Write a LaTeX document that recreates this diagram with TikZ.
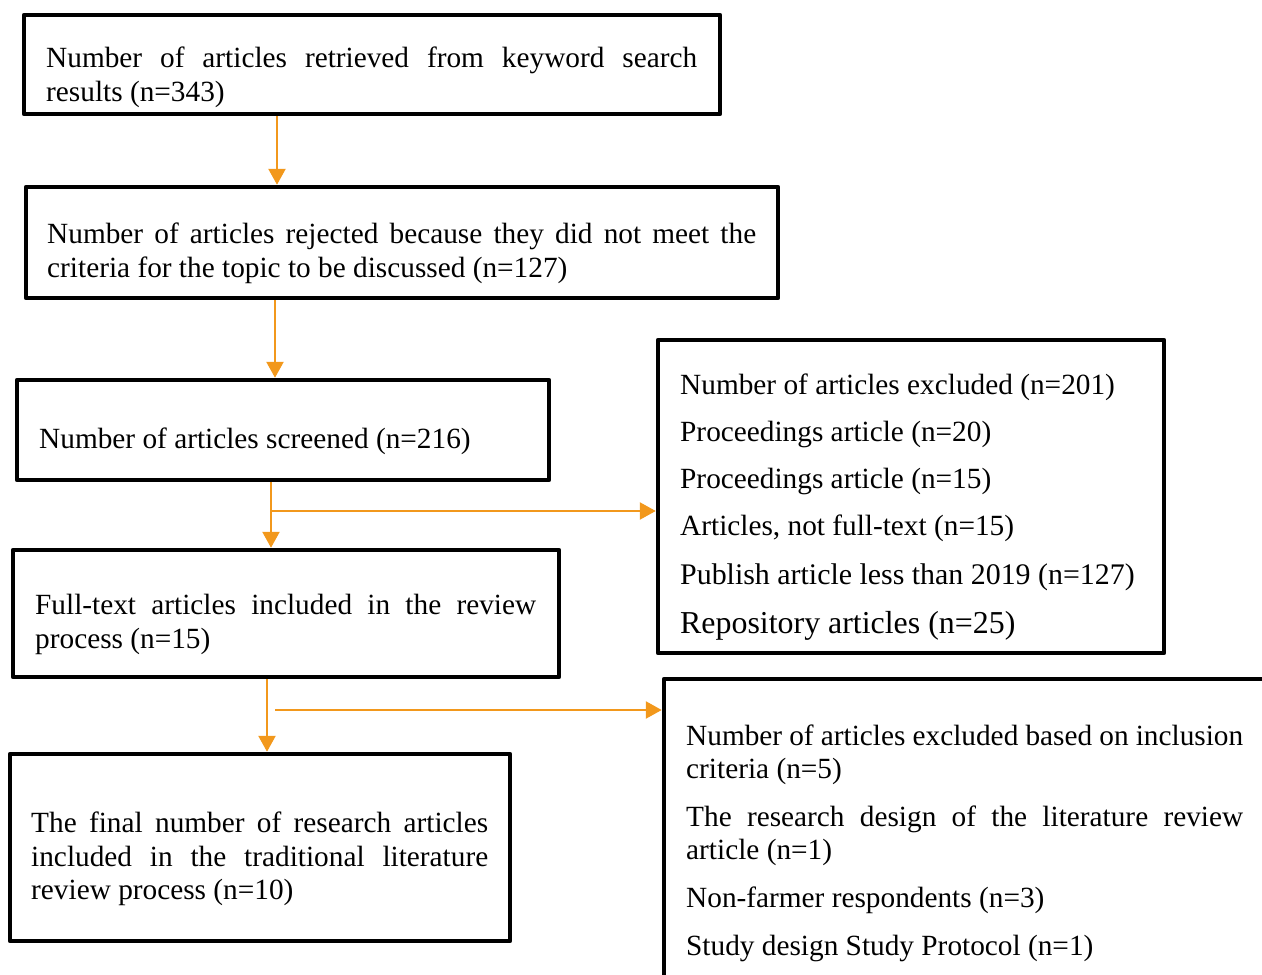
\documentclass[tikz,border=0pt]{standalone}
\usepackage{fontspec}
\setmainfont{Liberation Serif}
\usetikzlibrary{arrows.meta}
\definecolor{arrorange}{RGB}{242,152,28}
\newcommand\myfs[2]{\fontsize{#1}{#2}\selectfont\hyphenpenalty=10000\exhyphenpenalty=10000\tolerance=10000\emergencystretch=20pt}
\tikzset{
  box/.style={draw=black, line width=4.5pt, line join=round, rectangle, inner sep=0pt},
  txt/.style={inner sep=0pt, anchor=north west, align=justify, font=\myfs{29.3}{34}},
  lbl/.style={inner sep=0pt, anchor=north west, font=\myfs{29.3}{34}},
  arr/.style={draw=arrorange, line width=2.5pt, -{Triangle[width=17pt,length=16pt]}},
  link/.style={draw=arrorange, line width=2.5pt}
}
\begin{document}
\begin{tikzpicture}[x=1pt,y=-1pt]
\useasboundingbox (0,0) rectangle (1262,975);
\clip (0,0) rectangle (1262,975);
% boxes
\node[box, minimum width=696pt, minimum height=99pt] (b1) at (372,64.5) {};
\node[box, minimum width=752pt, minimum height=111pt] (b2) at (402,242.5) {};
\node[box, minimum width=532pt, minimum height=100pt] (b3) at (283,430) {};
\node[box, minimum width=506pt, minimum height=313pt] (b4) at (911,496.5) {};
\node[box, minimum width=546pt, minimum height=127pt] (b5) at (286,613.5) {};
\node[box, minimum width=500pt, minimum height=187pt] (b6) at (260,847.5) {};
\node[box, minimum width=736pt, minimum height=421pt] (b7) at (1032,889.5) {};
% texts
\node[txt, text width=651pt] (t1) at (46,43.7) {\strut Number of articles retrieved from keyword search\linebreak results (n=343)};
\node[txt, text width=709pt] (t2) at (47,219.7) {\strut Number of articles rejected because they did not meet the\linebreak criteria for the topic to be discussed (n=127)};
\node[lbl] (t3) at (39,424.7) {\strut Number of articles screened (n=216)};
\node[lbl] (t4a) at (680,370.2) {\strut Number of articles excluded (n=201)};
\node[lbl] (t4b) at (680,417.2) {\strut Proceedings article (n=20)};
\node[lbl] (t4c) at (680,464.7) {\strut Proceedings article (n=15)};
\node[lbl] (t4d) at (680,511.7) {\strut Articles, not full-text (n=15)};
\node[lbl, font=\myfs{29.9}{34}] (t4e) at (680,560.7) {\strut Publish article less than 2019 (n=127)};
\node[lbl, font=\myfs{31.9}{34}] (t4f) at (680,609.7) {\strut Repository articles (n=25)};
\node[txt, text width=501pt] (t5) at (35,590.7) {\strut Full-text articles included in the review\linebreak process (n=15)};
\node[txt, text width=457pt, font=\myfs{29.3}{33.5}] (t6) at (31,809.2) {\strut The final number of research articles\linebreak included in the traditional literature\linebreak review process (n=10)};
\node[txt, text width=557pt, font=\myfs{29.3}{33.5}] (t7a) at (686,721.7) {\strut Number of articles excluded based on inclusion\linebreak criteria (n=5)};
\node[txt, text width=557pt, font=\myfs{29.3}{33.5}] (t7b) at (686,802.7) {\strut The research design of the literature review\linebreak article (n=1)};
\node[lbl] (t7c) at (686,883.2) {\strut Non-farmer respondents (n=3)};
\node[lbl] (t7d) at (686,931.2) {\strut Study design Study Protocol (n=1)};
% connectors
\coordinate (x1) at (277,0);
\coordinate (x2) at (275,0);
\coordinate (x3) at (271,0);
\coordinate (x4) at (267,0);
\coordinate (j1) at (271,511);
\coordinate (j2) at (275,710);
\draw[arr] (b1.south -| x1) -- (b2.north -| x1);
\draw[arr] (b2.south -| x2) -- (b3.north -| x2);
\draw[arr] (b3.south -| x3) -- (b5.north -| x3);
\draw[arr] (j1) -- (j1 -| b4.west);
\draw[arr] (b5.south -| x4) -- (b6.north -| x4);
\draw[arr] (j2) -- (j2 -| b7.west);
\end{tikzpicture}
\end{document}
